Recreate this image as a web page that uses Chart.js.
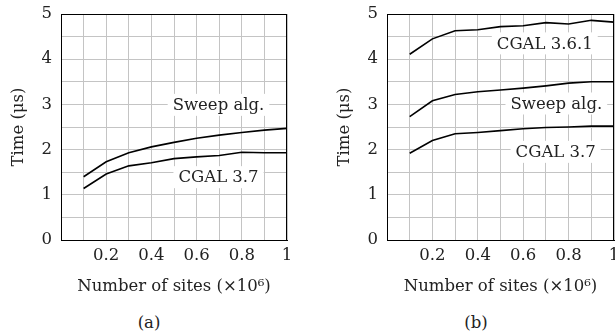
<!DOCTYPE html>
<html>
<head>
<meta charset="utf-8">
<script src="https://cdn.jsdelivr.net/npm/chart.js@4.4.0/dist/chart.umd.min.js"></script>
<style>
  body { margin: 0; background: #fff; width: 615px; height: 334px; overflow: hidden; position: relative; }
  canvas { position: absolute; top: 0; }
  .cap { position: absolute; top: 313px; width: 40px; text-align: center;
         font: 16.5px "DejaVu Serif", serif; color: #222; }
</style>
</head>
<body>
<canvas id="chartA" width="300" height="300" style="left:0"></canvas>
<canvas id="chartB" width="315" height="300" style="left:300px"></canvas>
<div class="cap" style="left:129px">(a)</div>
<div class="cap" style="left:456px">(b)</div>
<script>
// Số lượng điểm (triệu)
const sites = [0.1, 0.2, 0.3, 0.4, 0.5, 0.6, 0.7, 0.8, 0.9, 1.0];

// Hình (a)
const sweepA = [1.40, 1.73, 1.93, 2.06, 2.16, 2.25, 2.32, 2.38, 2.43, 2.47];
const cgal37A = [1.14, 1.46, 1.64, 1.71, 1.80, 1.84, 1.87, 1.94, 1.93, 1.93];

// Hình (b)
const cgal361B = [4.11, 4.45, 4.63, 4.65, 4.72, 4.74, 4.81, 4.78, 4.86, 4.82];
const sweepB = [2.73, 3.08, 3.22, 3.28, 3.32, 3.36, 3.41, 3.47, 3.50, 3.50];
const cgal37B = [1.92, 2.20, 2.35, 2.38, 2.42, 2.46, 2.49, 2.50, 2.52, 2.52];

const xTitle = "Number of sites (×10⁶)";
const yTitle = "Time (μs)";

const FONT = "DejaVu Serif";
const TEXT = "#222";
const GRID = "#c4c4c4";

const toPoints = (vals) => sites.map((x, i) => ({ x: x, y: vals[i] }));

// Nhãn đặt trên đường (white box + text)
const lineLabelPlugin = (items) => ({
  id: "lineLabels",
  afterDatasetsDraw(chart) {
    const { ctx, scales } = chart;
    ctx.save();
    ctx.font = "16.5px " + FONT;
    ctx.textAlign = "center";
    ctx.textBaseline = "middle";
    items.forEach((it) => {
      const px = scales.x.getPixelForValue(it.x);
      const py = scales.y.getPixelForValue(it.y);
      const w = ctx.measureText(it.text).width + 10;
      ctx.fillStyle = "#fff";
      ctx.fillRect(px - w / 2, py - 11, w, 22);
      ctx.fillStyle = TEXT;
      ctx.fillText(it.text, px, py + 1);
    });
    ctx.restore();
  },
});

// Khung đen quanh vùng vẽ
const boxPlugin = {
  id: "frame",
  afterDraw(chart) {
    const { ctx, chartArea: a } = chart;
    ctx.save();
    ctx.strokeStyle = "#000";
    ctx.lineWidth = 1;
    ctx.strokeRect(a.left + 0.5, a.top + 0.5, a.right - a.left - 1, a.bottom - a.top);
    ctx.restore();
  },
};

const makeChart = (id, series, labels, padLeft, padRight) => {
  const ctx = document.getElementById(id).getContext("2d");
  return new Chart(ctx, {
    type: "line",
    data: {
      datasets: series.map((vals) => ({
        data: toPoints(vals),
        borderColor: "#000",
        borderWidth: 1.6,
        pointRadius: 0,
        tension: 0,
        fill: false,
      })),
    },
    options: {
      responsive: false,
      animation: false,
      devicePixelRatio: 1,
      layout: { padding: { left: padLeft, right: padRight, top: 14, bottom: 0 } },
      plugins: { legend: { display: false }, tooltip: { enabled: false } },
      scales: {
        x: {
          type: "linear",
          min: 0,
          max: 1,
          grid: { display: true, drawOnChartArea: true, color: GRID, lineWidth: 1, drawTicks: false },
          border: { display: true, color: "#000" },
          ticks: {
            stepSize: 0.1,
            padding: 6,
            color: TEXT,
            font: { family: FONT, size: 16.5 },
            maxRotation: 0,
            autoSkip: false,
            callback: (v) => {
              const k = Math.round(v * 10);
              if (k === 0 || k % 2 !== 0) return "";
              return k === 10 ? "1" : "0." + k;
            },
          },
          title: {
            display: true,
            text: xTitle,
            color: TEXT,
            font: { family: FONT, size: 16.5 },
            padding: { top: 0, bottom: 3 },
          },
          afterFit: (s) => {
            s.height = 60;
            s.paddingLeft = 0;
            s.paddingRight = 0;
          },
        },
        y: {
          min: 0,
          max: 5,
          grid: { display: true, drawOnChartArea: true, color: GRID, lineWidth: 1, drawTicks: false },
          border: { display: true, color: "#000" },
          ticks: {
            stepSize: 0.5,
            padding: 9,
            color: TEXT,
            autoSkip: false,
            font: { family: FONT, size: 16.5 },
            callback: (v) => (Number.isInteger(v) ? String(v) : ""),
          },
          title: {
            display: true,
            text: yTitle,
            color: TEXT,
            font: { family: FONT, size: 16.5 },
            padding: { top: 9, bottom: 0 },
          },
          afterFit: (s) => {
            s.width = 61;
            s.paddingTop = 0;
            s.paddingBottom = 0;
          },
        },
      },
    },
    plugins: [lineLabelPlugin(labels), boxPlugin],
  });
};

document.addEventListener("DOMContentLoaded", () => {
  makeChart(
    "chartA",
    [sweepA, cgal37A],
    [
      { text: "Sweep alg.", x: 0.697, y: 2.99 },
      { text: "CGAL 3.7", x: 0.697, y: 1.39 },
    ],
    0,
    13
  );
  makeChart(
    "chartB",
    [cgal361B, sweepB, cgal37B],
    [
      { text: "CGAL 3.6.1", x: 0.695, y: 4.35 },
      { text: "Sweep alg.", x: 0.746, y: 3.02 },
      { text: "CGAL 3.7", x: 0.743, y: 1.95 },
    ],
    26,
    1
  );
});
</script>
</body>
</html>
